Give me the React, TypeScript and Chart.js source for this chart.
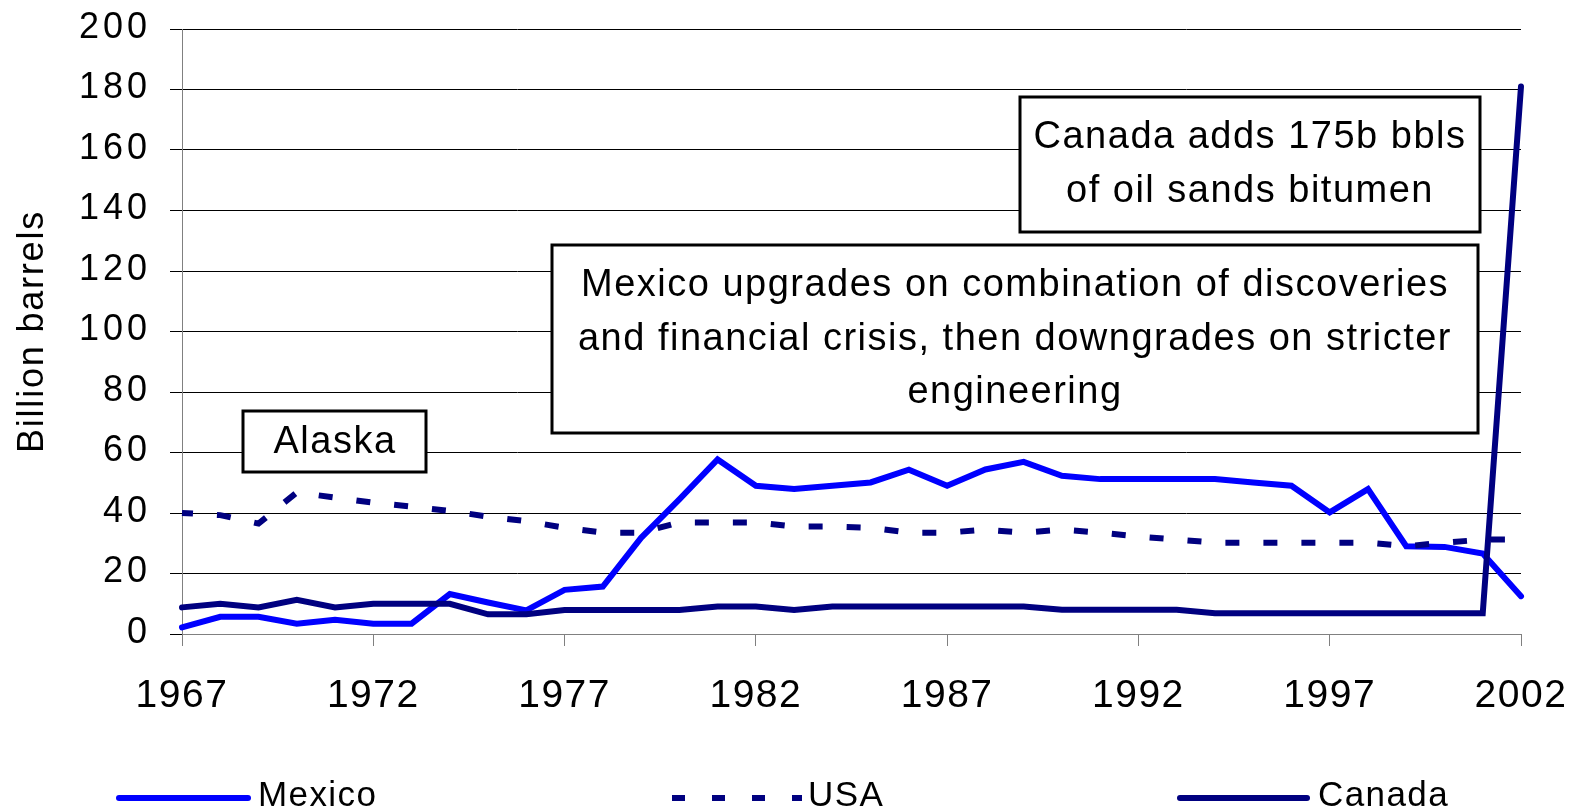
import React, { useEffect, useRef } from 'react';
import { Chart, registerables } from 'chart.js';

Chart.register(...registerables);

// ---------- data ----------
const years = [
  1967, 1968, 1969, 1970, 1971, 1972, 1973, 1974, 1975, 1976, 1977, 1978,
  1979, 1980, 1981, 1982, 1983, 1984, 1985, 1986, 1987, 1988, 1989, 1990,
  1991, 1992, 1993, 1994, 1995, 1996, 1997, 1998, 1999, 2000, 2001, 2002,
];
const mexico = [
  2.2, 5.7, 5.7, 3.4, 4.7, 3.4, 3.4, 13.2, 10.4, 7.8, 14.6, 15.7,
  31.8, 44.5, 57.7, 49.0, 47.9, 49.0, 50.1, 54.3, 49.0, 54.4, 56.9, 52.3,
  51.2, 51.2, 51.2, 51.2, 50.1, 49.0, 40.2, 47.9, 29.0, 28.8, 26.6, 12.5,
];
const usa = [
  40.0, 39.3, 36.5, 46.8, 45.1, 43.4, 42.1, 40.7, 38.8, 37.3, 35.1, 33.5,
  33.5, 36.9, 36.9, 36.9, 35.5, 35.5, 35.1, 33.5, 33.5, 34.5, 33.5, 34.5,
  33.5, 32.2, 31.2, 30.2, 30.2, 30.2, 30.2, 30.2, 29.0, 30.2, 31.2, 31.2,
];
const canada = [
  8.8, 10.0, 8.8, 11.3, 8.8, 10.0, 10.0, 10.0, 6.5, 6.5, 7.9, 7.9,
  7.9, 7.9, 9.1, 9.1, 7.9, 9.1, 9.1, 9.1, 9.1, 9.1, 9.1, 8.0,
  8.0, 8.0, 8.0, 6.9, 6.9, 6.9, 6.9, 6.9, 6.9, 6.9, 6.9, 181,
];
const seriesNames = ['Mexico', 'USA', 'Canada'];
const yTitle = 'Billion barrels';
const yMin = 0;
const yMax = 200;
const yStep = 20;
const xStep = 5;

const noteAlaska = ['Alaska'];
const noteMexico = [
  'Mexico upgrades on combination of discoveries',
  'and financial crisis, then downgrades on stricter',
  'engineering',
];
const noteCanada = ['Canada adds 175b bbls', 'of oil sands bitumen'];

// ---------- styles / layout ----------
const FONT = '"Liberation Sans", Arial, Helvetica, sans-serif';
const BLUE = '#0000FF';
const NAVY = '#000080';

const annotations = [
  { left: 243, top: 411, right: 426, bottom: 472, cx: 335, lines: noteAlaska, baselines: [453] },
  { left: 552, top: 245, right: 1478, bottom: 433, cx: 1015, lines: noteMexico, baselines: [296, 349.5, 403] },
  { left: 1020, top: 97, right: 1480, bottom: 232, cx: 1250, lines: noteCanada, baselines: [148, 202] },
];

const legendItems = [
  { x1: 119, x2: 248, textX: 258, color: BLUE, dash: [] as number[], cap: 'round' as CanvasLineCap },
  { x1: 672, x2: 802, textX: 808, color: NAVY, dash: [13, 27], cap: 'butt' as CanvasLineCap },
  { x1: 1180, x2: 1307, textX: 1318, color: NAVY, dash: [] as number[], cap: 'round' as CanvasLineCap },
];

const zeroPadding = (s: any) => {
  s.paddingTop = 0;
  s.paddingBottom = 0;
  s.paddingLeft = 0;
  s.paddingRight = 0;
};

const spacingPlugin = {
  id: 'spacingPlugin',
  beforeDraw(chart: any) {
    const patch = (scale: any, labelSp: string, titleSp: string) => {
      if (!scale || scale.__patched) return;
      scale.__patched = true;
      const dl = scale.drawLabels;
      scale.drawLabels = function (area: any) {
        const ctx = this.ctx;
        ctx.save();
        (ctx as any).letterSpacing = labelSp;
        dl.call(this, area);
        ctx.restore();
      };
      const dt = scale.drawTitle;
      scale.drawTitle = function () {
        const ctx = this.ctx;
        ctx.save();
        (ctx as any).letterSpacing = titleSp;
        dt.call(this);
        ctx.restore();
      };
    };
    patch(chart.scales.x, '1.5px', '0px');
    patch(chart.scales.y, '4px', '1.8px');
  },
};

const annotationPlugin = {
  id: 'annotationPlugin',
  afterDatasetsDraw(chart: any) {
    const ctx: CanvasRenderingContext2D = chart.ctx;
    ctx.save();
    for (const a of annotations) {
      ctx.fillStyle = '#ffffff';
      ctx.fillRect(a.left, a.top, a.right - a.left, a.bottom - a.top);
      ctx.lineWidth = 3;
      ctx.strokeStyle = '#000000';
      ctx.strokeRect(a.left, a.top, a.right - a.left, a.bottom - a.top);
      ctx.fillStyle = '#000000';
      ctx.font = `38px ${FONT}`;
      (ctx as any).letterSpacing = '1.5px';
      ctx.textAlign = 'center';
      ctx.textBaseline = 'alphabetic';
      a.lines.forEach((ln, i) => ctx.fillText(ln, a.cx, a.baselines[i]));
      (ctx as any).letterSpacing = '0px';
    }
    ctx.restore();
  },
  afterDraw(chart: any) {
    const ctx: CanvasRenderingContext2D = chart.ctx;
    ctx.save();
    const ly = 798;
    legendItems.forEach((it, i) => {
      ctx.beginPath();
      ctx.strokeStyle = it.color;
      ctx.lineWidth = 6;
      ctx.lineCap = it.cap;
      ctx.setLineDash(it.dash);
      ctx.moveTo(it.x1, ly);
      ctx.lineTo(it.x2, ly);
      ctx.stroke();
      ctx.setLineDash([]);
      ctx.fillStyle = '#000000';
      ctx.font = `35px ${FONT}`;
      (ctx as any).letterSpacing = '1.4px';
      ctx.textAlign = 'left';
      ctx.textBaseline = 'alphabetic';
      ctx.fillText(seriesNames[i], it.textX, 806);
      (ctx as any).letterSpacing = '0px';
    });
    ctx.restore();
  },
};

export default function App() {
  const ref = useRef<HTMLCanvasElement | null>(null);

  useEffect(() => {
    if (!ref.current) return;
    const toPts = (vals: number[]) => years.map((yr, i) => ({ x: yr, y: vals[i] }));
    const chart = new Chart(ref.current, {
      type: 'line',
      data: {
        datasets: [
          {
            label: seriesNames[0],
            data: toPts(mexico),
            borderColor: BLUE,
            backgroundColor: BLUE,
            borderWidth: 6,
            borderCapStyle: 'round',
            pointRadius: 0,
            tension: 0,
            clip: 10,
            order: 3,
          },
          {
            label: seriesNames[1],
            data: toPts(usa),
            borderColor: NAVY,
            backgroundColor: NAVY,
            borderWidth: 6,
            borderDash: [14, 24],
            borderDashOffset: 3,
            borderCapStyle: 'butt',
            pointRadius: 0,
            tension: 0,
            clip: 10,
            order: 2,
          },
          {
            label: seriesNames[2],
            data: toPts(canada),
            borderColor: NAVY,
            backgroundColor: NAVY,
            borderWidth: 6,
            borderCapStyle: 'round',
            pointRadius: 0,
            tension: 0,
            clip: 10,
            order: 1,
          },
        ],
      },
      options: {
        responsive: false,
        animation: false,
        events: [],
        layout: { padding: { left: 0, right: 56, top: 29, bottom: 0 } },
        plugins: {
          legend: { display: false },
          tooltip: { enabled: false },
          title: { display: false },
        },
        scales: {
          x: {
            type: 'linear',
            min: years[0],
            max: years[years.length - 1],
            afterFit: (s: any) => {
              s.height = 178;
              zeroPadding(s);
            },
            ticks: {
              stepSize: xStep,
              autoSkip: false,
              maxRotation: 0,
              padding: 27,
              color: '#000000',
              font: { family: FONT, size: 39 },
              callback: (v: any) => String(v),
            },
            grid: {
              drawOnChartArea: false,
              drawTicks: true,
              tickLength: 12,
              color: '#808080',
              lineWidth: 1,
            },
            border: { display: true, color: '#808080', width: 1 },
          },
          y: {
            type: 'linear',
            min: yMin,
            max: yMax,
            afterFit: (s: any) => {
              s.width = 182;
              zeroPadding(s);
            },
            ticks: {
              stepSize: yStep,
              padding: 19,
              labelOffset: -1,
              color: '#000000',
              font: { family: FONT, size: 36 },
            },
            grid: {
              color: '#000000',
              lineWidth: 1,
              tickLength: 12,
              drawTicks: true,
            },
            border: { display: true, color: '#808080', width: 1 },
            title: {
              display: true,
              text: yTitle,
              color: '#000000',
              font: { family: FONT, size: 36 },
              padding: { top: 11, bottom: 0 },
            },
          },
        },
      },
      plugins: [spacingPlugin, annotationPlugin],
    } as any);
    return () => chart.destroy();
  }, []);

  return (
    <div style={{ position: 'fixed', left: 0, top: 0, width: 1577, height: 812, background: '#ffffff' }}>
      <canvas ref={ref} width={1577} height={812} style={{ display: 'block', width: 1577, height: 812 }} />
    </div>
  );
}
